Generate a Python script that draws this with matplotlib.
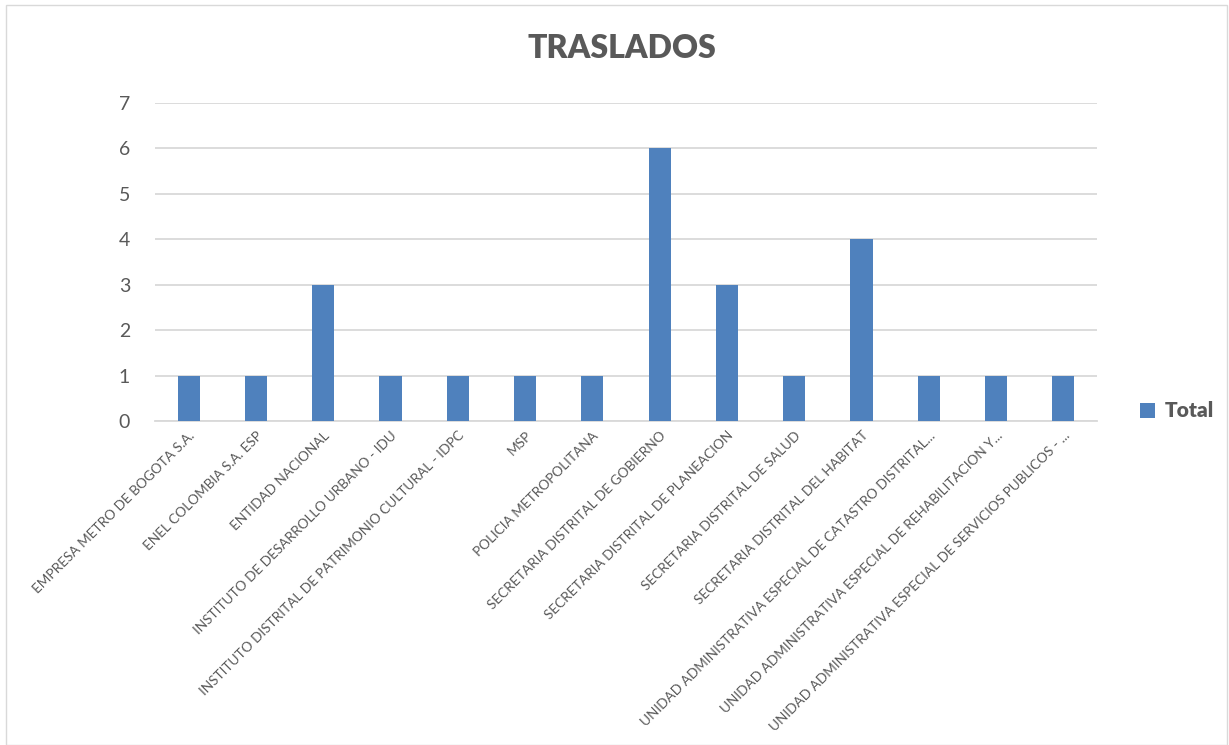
import numpy as np
import matplotlib.pyplot as plt
from matplotlib.patches import Rectangle

# Datos
categorias = [
    "EMPRESA METRO DE BOGOTA S.A.",
    "ENEL COLOMBIA S.A. ESP",
    "ENTIDAD NACIONAL",
    "INSTITUTO DE DESARROLLO URBANO - IDU",
    "INSTITUTO DISTRITAL DE PATRIMONIO CULTURAL - IDPC",
    "MSP",
    "POLICIA METROPOLITANA",
    "SECRETARIA DISTRITAL DE GOBIERNO",
    "SECRETARIA DISTRITAL DE PLANEACION",
    "SECRETARIA DISTRITAL DE SALUD",
    "SECRETARIA DISTRITAL DEL HABITAT",
    "UNIDAD ADMINISTRATIVA ESPECIAL DE CATASTRO DISTRITAL...",
    "UNIDAD ADMINISTRATIVA ESPECIAL DE REHABILITACION Y...",
    "UNIDAD ADMINISTRATIVA ESPECIAL DE SERVICIOS PUBLICOS - ...",
]
totales = [1, 1, 3, 1, 1, 1, 1, 6, 3, 1, 4, 1, 1, 1]
y_ticks = [0, 1, 2, 3, 4, 5, 6, 7]

gris = '#595959'
azul = '#4F81BD'

plt.rcParams['font.family'] = ['Lato', 'DejaVu Sans']

fig = plt.figure(figsize=(12.29, 7.45), dpi=100)
ax = fig.add_axes([155/1229, 1 - 421/745, (1097-155)/1229, (421-103)/745])

x = np.arange(len(categorias))
ax.bar(x, totales, width=0.33, color=azul, label='Total', zorder=3)

ax.set_xlim(-0.5, len(categorias) - 0.5)
ax.set_ylim(0, 7)
ax.set_yticks(y_ticks)
ax.yaxis.grid(True, color='#D9D9D9', linewidth=1.3, zorder=0)
ax.tick_params(axis='y', length=0, labelsize=14, labelcolor=gris, pad=18)
ax.tick_params(axis='x', length=0, pad=6)
ax.set_xticks(x)
ax.set_xticklabels(categorias, rotation=45, ha='right', rotation_mode='anchor',
                   fontsize=9.8, color=gris)
for s in ['top', 'right', 'left']:
    ax.spines[s].set_visible(False)
ax.spines['bottom'].set_color('#D9D9D9')
ax.spines['bottom'].set_linewidth(1.3)

fig.text(622/1229, 1 - 48/745, 'TRASLADOS', ha='center', va='center',
         fontsize=23, fontweight='heavy', color=gris)

leg = fig.legend(loc='center left', bbox_to_anchor=(1121/1229, 1 - 411/745),
                 frameon=False, handlelength=0.75, handleheight=0.75,
                 handletextpad=0.45, prop={'size': 15, 'weight': 'heavy'})
for t in leg.get_texts():
    t.set_color(gris)

# borde del grafico
fig.patches.append(Rectangle((6/1229, 0), 1 - 6/1229 - 2/1229, 1 - 5/745,
                             transform=fig.transFigure, fill=False,
                             edgecolor='#D9D9D9', linewidth=1))

fig.savefig('out.png', dpi=100)
